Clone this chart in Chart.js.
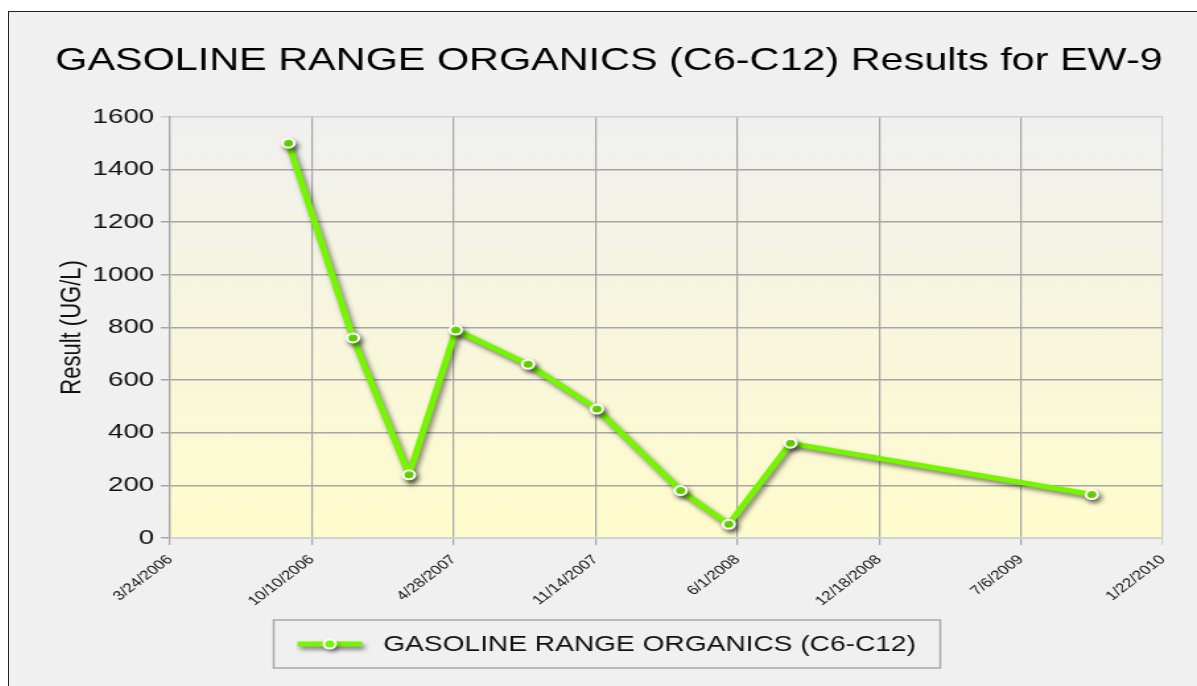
<!DOCTYPE html>
<html>
<head>
<meta charset="utf-8">
<title>GASOLINE RANGE ORGANICS (C6-C12) Results for EW-9</title>
<script src="https://cdn.jsdelivr.net/npm/chart.js@4.4.1/dist/chart.umd.min.js"></script>
<style>
    html, body { margin: 0; padding: 0; background: #ffffff; overflow: hidden; }
    #frame {
        position: absolute; left: 8px; top: 11px; width: 1300px; height: 700px;
        border-left: 1px solid #222; border-top: 1px solid #222; background: #f0f0f0;
    }
    #chart { position: absolute; left: 0; top: 0; }
</style>
</head>
<body>
<div id="frame">
    <!-- drawn at 900 wide, shown stretched like the original export -->
    <canvas id="chart" width="900" height="675" style="width:1188px;height:675px"></canvas>
</div>
<script>
// Data
const chartTitle = 'GASOLINE RANGE ORGANICS (C6-C12) Results for EW-9';
const seriesLabel = 'GASOLINE RANGE ORGANICS (C6-C12)';
const yAxisTitle = 'Result (UG/L)';

const sampleDates = ['2006-09-07', '2006-12-07', '2007-02-24', '2007-05-01', '2007-08-11',
    '2007-11-16', '2008-03-13', '2008-05-20', '2008-08-15', '2009-10-14'];
const resultValues = [1500, 760, 240, 790, 660, 490, 180, 52, 360, 165];

// x axis runs from 3/24/2006 in steps of 200 days
const axisStartDate = '2006-03-24';
const axisSpanDays = 1400;
const tickStepDays = 200;
const yMax = 1600;
const yStep = 200;

const lineGreen = '#76f500';
const DAY_MS = 86400000;

function toUTC(s) {
    const [y, m, d] = s.split('-').map(Number);
    return Date.UTC(y, m - 1, d);
}

function dayOffset(s) {
    return Math.round((toUTC(s) - toUTC(axisStartDate)) / DAY_MS);
}

function formatTick(days) {
    const dt = new Date(toUTC(axisStartDate) + days * DAY_MS);
    return (dt.getUTCMonth() + 1) + '/' + dt.getUTCDate() + '/' + dt.getUTCFullYear();
}

Chart.defaults.font.family = '"Liberation Sans", Arial, sans-serif';
Chart.defaults.color = '#111111';

// gray-to-yellow wash behind the plot
const plotBackground = {
    id: 'plotBackground',
    beforeDraw(chart) {
        const { ctx, chartArea: a } = chart;
        const g = ctx.createLinearGradient(0, a.top, 0, a.bottom);
        g.addColorStop(0, '#f0f0f0');
        g.addColorStop(1, '#fffccc');
        ctx.save();
        ctx.fillStyle = g;
        ctx.fillRect(a.left, a.top, a.right - a.left, a.bottom - a.top);
        ctx.restore();
    }
};

// soft drop shadow under the series line
const lineShadow = {
    id: 'lineShadow',
    beforeDatasetDraw(chart) {
        const ctx = chart.ctx;
        ctx.save();
        ctx.shadowColor = 'rgba(0, 0, 0, 0.5)';
        ctx.shadowBlur = 4;
        ctx.shadowOffsetX = 2;
        ctx.shadowOffsetY = 3;
    },
    afterDatasetDraw(chart) {
        chart.ctx.restore();
    }
};

// framed legend box under the axis
const boxLegend = {
    id: 'boxLegend',
    afterDraw(chart) {
        const { ctx, chartArea } = chart;
        const boxW = 505;
        const boxH = 48;
        const x0 = chart.width / 2 - boxW / 2 + 3;
        const y0 = chartArea.bottom + 82;
        const midY = y0 + boxH / 2;

        ctx.save();
        ctx.strokeStyle = '#a8a8a8';
        ctx.lineWidth = 1.5;
        ctx.strokeRect(x0, y0, boxW, boxH);

        ctx.shadowColor = 'rgba(0, 0, 0, 0.5)';
        ctx.shadowBlur = 4;
        ctx.shadowOffsetX = 2;
        ctx.shadowOffsetY = 3;
        ctx.strokeStyle = lineGreen;
        ctx.lineWidth = 5;
        ctx.beginPath();
        ctx.moveTo(x0 + 18, midY);
        ctx.lineTo(x0 + 67, midY);
        ctx.stroke();
        ctx.beginPath();
        ctx.arc(x0 + 42.5, midY, 4.5, 0, Math.PI * 2);
        ctx.fillStyle = lineGreen;
        ctx.fill();
        ctx.shadowColor = 'transparent';
        ctx.lineWidth = 2;
        ctx.strokeStyle = '#ffffff';
        ctx.stroke();

        ctx.fillStyle = '#111111';
        ctx.font = '21.3px "Liberation Sans", Arial, sans-serif';
        ctx.textAlign = 'left';
        ctx.textBaseline = 'middle';
        ctx.fillText(seriesLabel, x0 + 83, midY + 1);
        ctx.restore();
    }
};

const canvas = document.getElementById('chart');
new Chart(canvas.getContext('2d'), {
    type: 'line',
    data: {
        datasets: [{
            label: seriesLabel,
            data: sampleDates.map((d, i) => ({ x: dayOffset(d), y: resultValues[i] })),
            borderColor: lineGreen,
            backgroundColor: lineGreen,
            borderWidth: 5,
            tension: 0,
            pointRadius: 4.5,
            pointBorderWidth: 2,
            pointBorderColor: '#ffffff',
            pointBackgroundColor: lineGreen
        }]
    },
    options: {
        responsive: false,
        animation: false,
        layout: {
            padding: { top: 0, left: 35, right: 26, bottom: 79 }
        },
        plugins: {
            legend: { display: false },
            tooltip: { enabled: false },
            title: {
                display: true,
                text: chartTitle,
                color: '#000000',
                font: { size: 31.5, weight: 'normal' },
                padding: { top: 30, bottom: 37 }
            }
        },
        scales: {
            x: {
                type: 'linear',
                min: 0,
                max: axisSpanDays,
                afterFit: (scale) => { scale.height = 70; },
                grid: {
                    color: (c) => (c.tick && c.tick.value === axisSpanDays) ? '#cfcfcf' : '#a6a6a6',
                    lineWidth: 1.2,
                    tickLength: 7
                },
                border: { color: '#d4d4d4', width: 1.5 },
                ticks: {
                    stepSize: tickStepDays,
                    minRotation: 45,
                    maxRotation: 45,
                    padding: 7,
                    font: { size: 13 },
                    color: '#111111',
                    callback: (v) => formatTick(v)
                }
            },
            y: {
                min: 0,
                max: yMax,
                afterFit: (scale) => { scale.width = 87; },
                grid: {
                    color: (c) => (c.tick && (c.tick.value === yMax)) ? '#cfcfcf' : '#a6a6a6',
                    lineWidth: 1.5,
                    tickLength: 7
                },
                border: { color: '#a6a6a6', width: 1.2 },
                ticks: {
                    stepSize: yStep,
                    padding: 5,
                    font: { size: 21 },
                    color: '#111111',
                    callback: (v) => String(v)
                },
                title: {
                    display: true,
                    text: yAxisTitle,
                    color: '#111111',
                    font: { size: 22 },
                    padding: { top: 0, bottom: 0 }
                }
            }
        }
    },
    plugins: [plotBackground, lineShadow, boxLegend]
});
</script>
</body>
</html>
